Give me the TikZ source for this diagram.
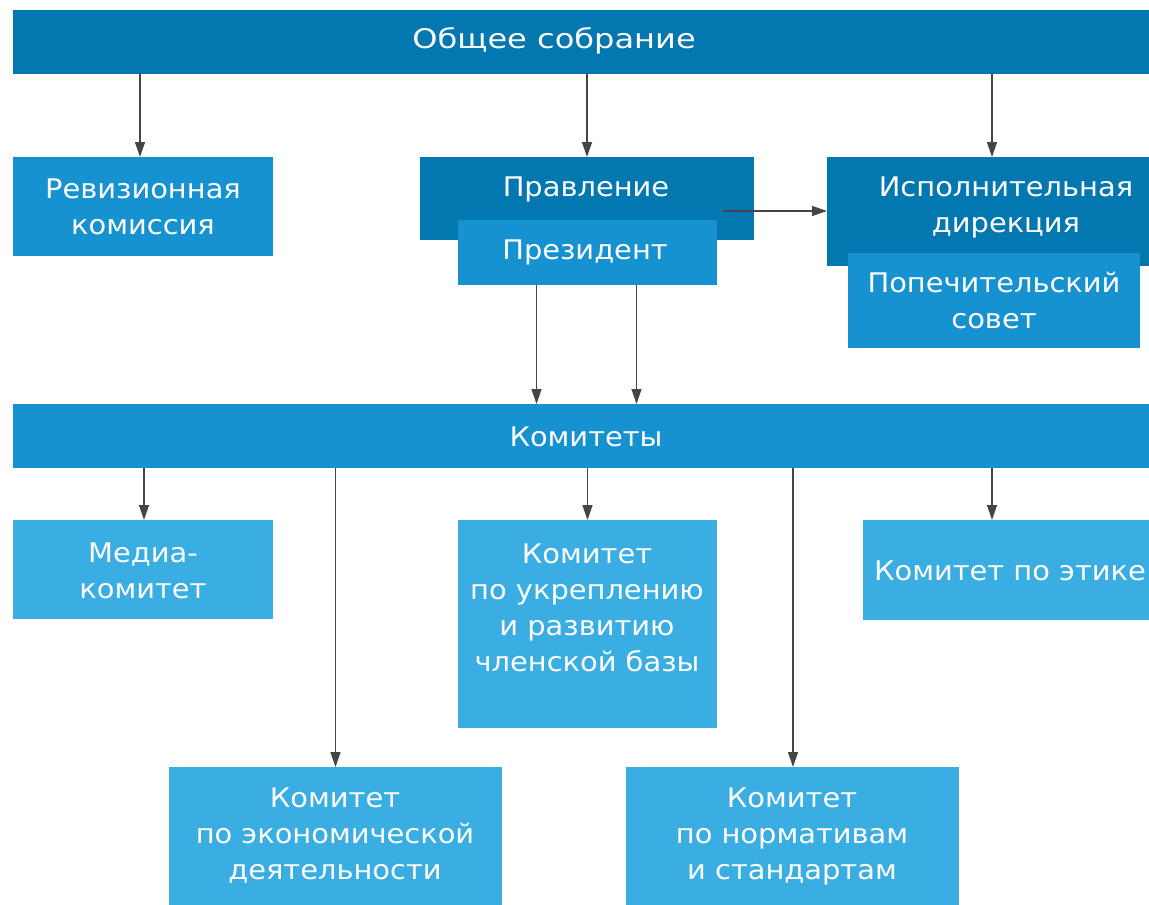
\documentclass[tikz,border=0pt]{standalone}
\usepackage{fontspec}
\setmainfont{DejaVu Sans}[FakeStretch=1.07]
\usetikzlibrary{arrows.meta}
\definecolor{cdark}{HTML}{0277B0}
\definecolor{cmid}{HTML}{1692D0}
\definecolor{clight}{HTML}{3AADE2}
\definecolor{carrow}{HTML}{454545}
\begin{document}
\begin{tikzpicture}[x=1pt,y=-1pt,
  box/.style={rectangle,inner sep=0pt,outer sep=0pt,anchor=north west},
  lbl/.style={text=white,align=center,font=\fontsize{27}{36}\selectfont,inner sep=0pt},
  arr/.style={draw=carrow,line width=1.3pt,-{Triangle[length=15pt,width=10pt]}},
  ln/.style={draw=carrow,line width=1.3pt}]
\useasboundingbox (0,0) rectangle (1149,905);
% top level
\node[box,fill=cdark,minimum width=1136pt,minimum height=64pt] (gen) at (13,10) {};
\node[lbl] (gent) at (554,41) {\scalebox{1.11}[1]{Общее собрание}};
% second row
\node[box,fill=cmid,minimum width=260pt,minimum height=99pt] (rev) at (13,157) {};
\node[lbl] (revt) at (143,207) {Ревизионная\\комиссия};
\node[box,fill=cdark,minimum width=334pt,minimum height=83pt] (prav) at (420,157) {};
\node[lbl] (pravt) at (586,189) {Правление};
\node[box,fill=cmid,minimum width=259pt,minimum height=65pt] (pres) at (458,220) {};
\node[lbl] (prest) at (585,252) {Президент};
\node[box,fill=cdark,minimum width=322pt,minimum height=109pt] (isp) at (827,157) {};
\node[lbl] (ispt) at (1006,207) {Исполнительная\\дирекция};
\node[box,fill=cmid,minimum width=292pt,minimum height=95pt] (pop) at (848,253) {};
\node[lbl] (popt) at (994,300) {Попечительский\\совет};
% committees bar
\node[box,fill=cmid,minimum width=1136pt,minimum height=64pt] (kom) at (13,404) {};
\node[lbl] (komt) at (586,437) {Комитеты};
% committees
\node[box,fill=clight,minimum width=260pt,minimum height=99pt] (med) at (13,520) {};
\node[lbl] (medt) at (143,571) {Медиа-\\комитет};
\node[box,fill=clight,minimum width=259pt,minimum height=208pt] (ukr) at (458,520) {};
\node[lbl] (ukrt) at (587,608) {Комитет\\по укреплению\\и развитию\\членской базы};
\node[box,fill=clight,minimum width=286pt,minimum height=100pt] (eth) at (863,520) {};
\node[lbl] (etht) at (1010,571) {Комитет по этике};
\node[box,fill=clight,minimum width=333pt,minimum height=138pt] (eco) at (169,767) {};
\node[lbl] (ecot) at (335,836) {Комитет\\по экономической\\деятельности};
\node[box,fill=clight,minimum width=333pt,minimum height=138pt] (norm) at (626,767) {};
\node[lbl] (normt) at (792,836) {Комитет\\по нормативам\\и стандартам};
% connectors
\draw[arr] (gen.south -| 140,0) -- (rev.north -| 140,0);
\draw[arr] (gen.south -| prav.north) -- (prav.north);
\draw[arr] (gen.south -| 992,0) -- (isp.north -| 992,0);
\coordinate (pravout) at (723,211);
\draw[arr] (pravout) -- (pravout -| isp.west);
\draw[arr] ([xshift=-51pt]pres.south) -- ([xshift=-51pt]pres.south |- kom.north);
\draw[arr] ([xshift=49pt]pres.south) -- ([xshift=49pt]pres.south |- kom.north);
\draw[arr] (kom.south -| 144,0) -- (med.north -| 144,0);
\draw[arr] (kom.south -| ukr.north) -- (ukr.north);
\draw[arr] (kom.south -| 992,0) -- (eth.north -| 992,0);
\draw[arr] (kom.south -| eco.north) -- (eco.north);
\draw[arr] (kom.south -| 793,0) -- (norm.north -| 793,0);
\end{tikzpicture}
\end{document}
